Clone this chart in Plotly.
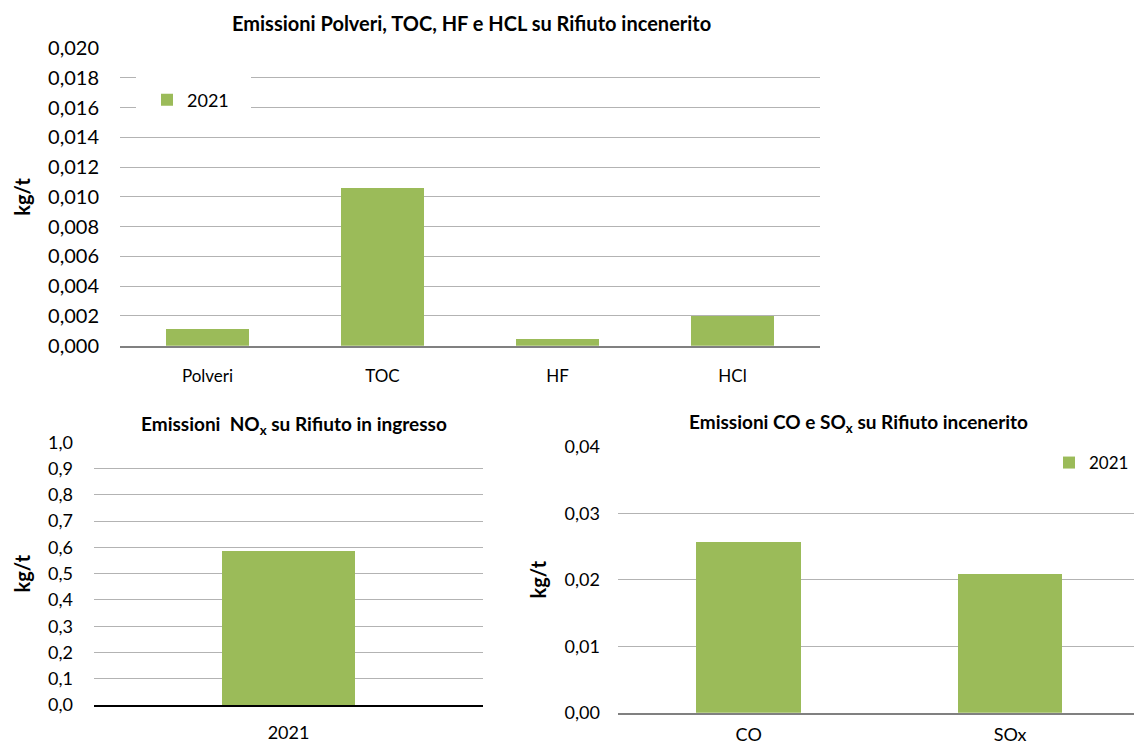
import plotly.graph_objects as go

# ---- data ----
top_categories = ["Polveri", "TOC", "HF", "HCl"]
top_values = [0.00112, 0.01057, 0.00043, 0.00200]

nox_categories = ["2021"]
nox_values = [0.586]

coso_categories = ["CO", "SOx"]
coso_values = [0.0257, 0.0209]

series_name = "2021"
bar_color = "#9BBB59"
W, H = 1134, 745
FONT = "Lato"


def px(x):
    return x / W


def py(y):
    return (H - y) / H


fig = go.Figure()

fig.add_trace(go.Bar(x=top_categories, y=top_values, name=series_name,
                     marker=dict(color=bar_color, line=dict(width=0)),
                     width=0.47, xaxis="x", yaxis="y", legend="legend",
                     showlegend=True))
fig.add_trace(go.Bar(x=nox_categories, y=nox_values, name=series_name,
                     marker=dict(color=bar_color, line=dict(width=0)),
                     width=0.34, xaxis="x2", yaxis="y2", showlegend=False))
fig.add_trace(go.Bar(x=coso_categories, y=coso_values, name=series_name,
                     marker=dict(color=bar_color, line=dict(width=0)),
                     width=0.40, xaxis="x3", yaxis="y3", legend="legend3",
                     showlegend=True))

grid = "#B3B3B3"
common_y = dict(showgrid=True, gridcolor=grid, gridwidth=1, zeroline=False,
                showline=False, ticks="", color="#000000", automargin=False)
common_x = dict(showgrid=False, zeroline=False, showline=True, ticks="",
                color="#000000", automargin=False)

fig.update_layout(
    width=W, height=H,
    margin=dict(l=0, r=0, t=0, b=0, autoexpand=False),
    paper_bgcolor="white", plot_bgcolor="white",
    separators=",.",
    font=dict(family=FONT, color="#000000"),
    bargap=0,
    xaxis=dict(common_x, domain=[px(120), px(820)], anchor="y",
               range=[-0.5, 3.5], linecolor="#808080", linewidth=1.5,
               tickfont=dict(size=17, family=FONT), ticklabelstandoff=14),
    yaxis=dict(common_y, domain=[py(345.7), py(48)], anchor="x",
               range=[0, 0.020], dtick=0.002, tickformat=".3f",
               tickfont=dict(size=20, family=FONT), ticklabelstandoff=20,
               title=dict(text="<b>kg/t</b>", font=dict(size=20, family=FONT),
                          standoff=12)),
    xaxis2=dict(common_x, domain=[px(94), px(483)], anchor="y2",
                range=[-0.5, 0.5], linecolor="#000000", linewidth=1.5,
                tickfont=dict(size=18, family=FONT), ticklabelstandoff=11),
    yaxis2=dict(common_y, domain=[py(705), py(442.3)], anchor="x2",
                range=[0, 1.0], dtick=0.1, tickformat=".1f",
                tickfont=dict(size=18, family=FONT), ticklabelstandoff=20,
                title=dict(text="<b>kg/t</b>", font=dict(size=20, family=FONT),
                           standoff=12)),
    xaxis3=dict(common_x, domain=[px(618), 1.0], anchor="y3",
                range=[-0.5, 1.474], linecolor="#808080", linewidth=1.5,
                tickfont=dict(size=18, family=FONT), ticklabelstandoff=5),
    yaxis3=dict(common_y, domain=[py(712.7), py(446.7)], anchor="x3",
                range=[0, 0.04], dtick=0.01, tickformat=".2f",
                tickfont=dict(size=18, family=FONT), ticklabelstandoff=17,
                title=dict(text="<b>kg/t</b>", font=dict(size=20, family=FONT),
                           standoff=12)),
    legend=dict(x=px(147), y=py(100), xanchor="left", yanchor="middle",
                bgcolor="rgba(0,0,0,0)", font=dict(size=18, family=FONT)),
    legend3=dict(x=1.0, y=py(463), xanchor="right", yanchor="middle",
                 bgcolor="rgba(0,0,0,0)", font=dict(size=17, family=FONT)),
    annotations=[
        dict(text="<b>Emissioni Polveri, TOC, HF e HCL su Rifiuto incenerito</b>",
             x=px(471), y=py(23), xref="paper", yref="paper",
             showarrow=False, font=dict(size=20, family=FONT),
             xanchor="center", yanchor="middle"),
        dict(text="<b>Emissioni  NO<sub>x</sub> su Rifiuto in ingresso</b>",
             x=px(294), y=py(425), xref="paper", yref="paper",
             showarrow=False, font=dict(size=19, family=FONT),
             xanchor="center", yanchor="middle"),
        dict(text="<b>Emissioni CO e SO<sub>x</sub> su Rifiuto incenerito</b>",
             x=px(858), y=py(423), xref="paper", yref="paper",
             showarrow=False, font=dict(size=19, family=FONT),
             xanchor="center", yanchor="middle"),
    ],
    shapes=[
        dict(type="rect", xref="paper", yref="paper", layer="above",
             x0=px(136), x1=px(251), y0=py(124), y1=py(66),
             fillcolor="white", line=dict(width=0)),
        dict(type="rect", xref="paper", yref="paper", layer="above",
             x0=px(1063), x1=1.0, y0=py(490), y1=py(438),
             fillcolor="white", line=dict(width=0)),
    ],
)

fig.write_html(
    "out.html",
    config={"displayModeBar": False},
    post_script="document.body.style.margin='0';document.body.style.overflow='hidden';",
)
